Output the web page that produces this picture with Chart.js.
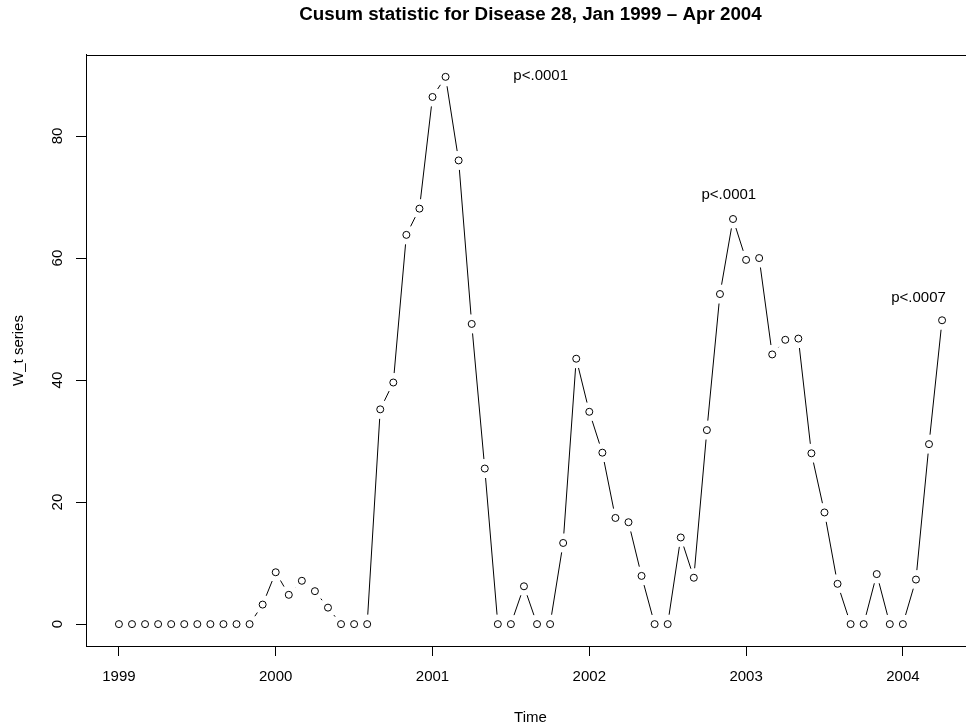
<!DOCTYPE html>
<html>
<head>
<meta charset="utf-8">
<script src="https://cdn.jsdelivr.net/npm/chart.js@4"></script>
<style>
  html, body { margin: 0; padding: 0; background: #fff; overflow: hidden; }
  #wrap { width: 966px; height: 725px; overflow: hidden; }
</style>
</head>
<body>
<div id="wrap"><canvas id="cusum" width="1000" height="725" style="width:1000px;height:725px"></canvas></div>
<script>
// monthly series, Jan 1999 .. Apr 2004 (ts start 1999, frequency 12)
const startYear = 1999;
const wt = [
  0, 0, 0, 0, 0, 0, 0, 0, 0, 0, 0, 3.2,
  8.5, 4.8, 7.1, 5.4, 2.7, 0, 0, 0, 35.2, 39.6, 63.8, 68.1,
  86.4, 89.7, 76.0, 49.2, 25.5, 0, 0, 6.2, 0, 0, 13.3, 43.5,
  34.8, 28.1, 17.4, 16.7, 7.9, 0, 0, 14.2, 7.6, 31.8, 54.1, 66.4,
  59.7, 60.0, 44.2, 46.6, 46.8, 28.0, 18.3, 6.6, 0, 0, 8.2, 0,
  0, 7.3, 29.5, 49.8
];
const time = wt.map((_, i) => startYear + i / 12);

const xTicks = [1999, 2000, 2001, 2002, 2003, 2004];
const yTicks = [0, 20, 40, 60, 80];

// p-value notes
const noteX = [2001.69, 2002.89, 2004.10];
const noteY = [89.8, 70.3, 53.4];
const noteText = ["p<.0001", "p<.0001", "p<.0007"];

Chart.defaults.font.family = "'Liberation Sans', Arial, sans-serif";
Chart.defaults.color = "#000";

const GAP = 9.5;

// R type="b": segments stop short of each point
const typeB = {
  id: "typeB",
  afterDatasetsDraw(chart) {
    const pts = chart.getDatasetMeta(0).data;
    const ctx = chart.ctx;
    ctx.save();
    ctx.strokeStyle = "#000";
    ctx.lineWidth = 1;
    ctx.beginPath();
    for (let i = 1; i < pts.length; i++) {
      const a = pts[i - 1], b = pts[i];
      const dx = b.x - a.x, dy = b.y - a.y;
      const d = Math.hypot(dx, dy);
      if (d <= 2 * GAP) continue;
      const ux = dx / d, uy = dy / d;
      ctx.moveTo(a.x + ux * GAP, a.y + uy * GAP);
      ctx.lineTo(b.x - ux * GAP, b.y - uy * GAP);
    }
    ctx.stroke();
    ctx.restore();
  }
};

const extras = {
  id: "extras",
  afterDraw(chart) {
    const { ctx, chartArea: ca, scales } = chart;
    ctx.save();
    // plot box
    ctx.strokeStyle = "#000";
    ctx.lineWidth = 1;
    ctx.strokeRect(Math.round(ca.left) + 0.5, Math.round(ca.top) + 0.5,
      Math.round(ca.right - ca.left), Math.round(ca.bottom - ca.top));

    ctx.fillStyle = "#000";
    ctx.font = "15px 'Liberation Sans', Arial, sans-serif";
    ctx.textAlign = "center";
    ctx.textBaseline = "middle";

    // y tick labels, rotated like R's las=0
    yTicks.forEach(v => {
      const y = scales.y.getPixelForValue(v);
      ctx.save();
      ctx.translate(57.5, y);
      ctx.rotate(-Math.PI / 2);
      ctx.fillText(String(v), 0, 0);
      ctx.restore();
    });

    noteText.forEach((t, i) => {
      ctx.fillText(t, scales.x.getPixelForValue(noteX[i]), scales.y.getPixelForValue(noteY[i]));
    });
    ctx.restore();
  }
};

const axisCommon = {
  grid: { drawOnChartArea: false, drawTicks: true, tickLength: 10, tickColor: "#000", tickWidth: 1 },
  border: { display: true, color: "#000", width: 1 }
};

new Chart(document.getElementById("cusum"), {
  type: "scatter",
  data: {
    datasets: [{
      data: time.map((t, i) => ({ x: t, y: wt[i] })),
      showLine: false,
      pointStyle: "circle",
      pointRadius: 3.5,
      pointBorderWidth: 1,
      pointBorderColor: "#000",
      pointBackgroundColor: "rgba(0,0,0,0)"
    }]
  },
  options: {
    responsive: false,
    animation: false,
    events: [],
    layout: { padding: { left: 0, right: 25, top: 0, bottom: 0 } },
    scales: {
      x: {
        ...axisCommon,
        type: "linear",
        min: 1998.79,
        max: 2004.46,
        afterBuildTicks: s => { s.ticks = xTicks.map(v => ({ value: v })); },
        afterFit: s => { s.height = 79; },
        ticks: { font: { size: 15 }, padding: 12, maxRotation: 0, autoSkip: false, callback: v => String(v) },
        title: { display: true, text: "Time", font: { size: 15 }, padding: { top: 0, bottom: -2 } }
      },
      y: {
        ...axisCommon,
        type: "linear",
        min: -3.588,
        max: 93.288,
        afterBuildTicks: s => { s.ticks = yTicks.map(v => ({ value: v })); },
        afterFit: s => { s.width = 86; },
        ticks: { display: false },
        title: { display: true, text: "W_t series", font: { size: 15 }, padding: { top: 10, bottom: 0 } }
      }
    },
    plugins: {
      legend: { display: false },
      tooltip: { enabled: false },
      title: {
        display: true,
        fullSize: false,
        text: "Cusum statistic for Disease 28, Jan 1999 \u2013 Apr 2004",
        font: { size: 18.8, weight: "bold" },
        color: "#000",
        padding: { top: 3.5, bottom: 28.9 }
      }
    }
  },
  plugins: [typeB, extras]
});
</script>
</body>
</html>
